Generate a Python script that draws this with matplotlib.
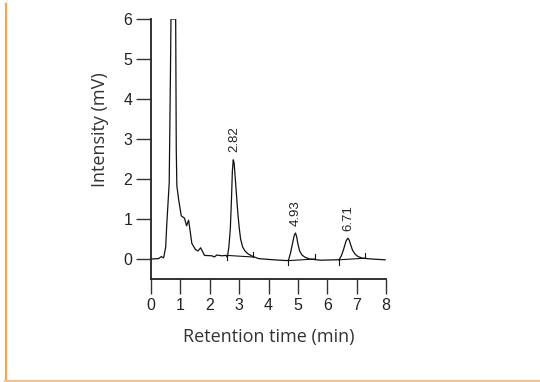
import matplotlib
matplotlib.use("Agg")
import matplotlib.pyplot as plt
from matplotlib.lines import Line2D

# Chromatogram trace (retention time in min, intensity in mV)
time_min = [0.00, 0.26, 0.35, 0.43, 0.50, 0.54, 0.62, 0.66, 0.68, 0.84, 0.86, 0.88,
            0.94, 1.03, 1.14, 1.21, 1.28, 1.34, 1.39, 1.51, 1.60, 1.69, 1.82, 2.07,
            2.16, 2.24, 2.41, 2.56, 2.60, 2.65, 2.70, 2.74, 2.77, 2.80, 2.83, 2.86,
            2.90, 2.95, 3.00, 3.05, 3.12, 3.20, 3.30, 3.45, 3.66, 4.17, 4.63, 4.68,
            4.75, 4.82, 4.88, 4.92, 4.96, 5.00, 5.06, 5.14, 5.25, 5.40, 5.76, 6.32,
            6.40, 6.48, 6.56, 6.64, 6.70, 6.75, 6.80, 6.86, 6.95, 7.05, 7.20, 7.50,
            7.97]
intensity_mv = [0.00, 0.01, 0.06, 0.03, 0.30, 0.91, 1.90, 4.50, 6.00, 6.00, 2.74, 1.83,
                1.49, 1.08, 1.02, 0.83, 0.97, 0.66, 0.39, 0.24, 0.20, 0.28, 0.09, 0.08,
                0.05, 0.10, 0.08, 0.09, 0.04, 0.30, 0.75, 1.50, 2.20, 2.48, 2.40, 2.10,
                1.70, 1.20, 0.80, 0.50, 0.30, 0.20, 0.13, 0.07, 0.01, -0.02, -0.04, -0.03,
                0.15, 0.40, 0.60, 0.65, 0.55, 0.38, 0.20, 0.10, 0.04, 0.00, -0.03, -0.02,
                -0.02, 0.08, 0.25, 0.45, 0.52, 0.47, 0.35, 0.22, 0.12, 0.06, 0.02, 0.00,
                -0.02]

# Integration baselines (start/end of each peak)
peak_start_t = [2.58, 4.68, 6.40]
peak_start_y = [0.09, -0.04, -0.02]
peak_end_t = [3.47, 5.59, 7.29]
peak_end_y = [0.05, 0.00, 0.02]

# Peak annotations
peak_labels = ["2.82", "4.93", "6.71"]
peak_label_t = [2.82, 4.93, 6.71]
peak_label_y = [2.68, 0.83, 0.70]

x_ticks = [0, 1, 2, 3, 4, 5, 6, 7, 8]
y_ticks = [0, 1, 2, 3, 4, 5, 6]

fig = plt.figure(figsize=(5.4, 3.82), dpi=100)
ax = fig.add_axes([151/540, 1 - 279/382, (386 - 151)/540, (279 - 19)/382])

ax.plot(time_min, intensity_mv, color="#111111", lw=0.9)

tick_h = 0.12
for ts, ys, te, ye in zip(peak_start_t, peak_start_y, peak_end_t, peak_end_y):
    ax.plot([ts, te], [ys, ye], color="#111111", lw=0.8)
    ax.plot([ts, ts], [ys, ys - tick_h], color="#111111", lw=0.8)
    ax.plot([te, te], [ye, ye + tick_h], color="#111111", lw=0.8)

for lab, t, y in zip(peak_labels, peak_label_t, peak_label_y):
    ax.text(t, y, lab, rotation=90, ha="center", va="bottom", fontsize=9.5,
            family="Liberation Sans", color="#222222")

ax.set_xlim(0, 8)
ax.set_ylim(-0.5, 6)
ax.set_xticks(x_ticks)
ax.set_yticks(y_ticks)
ax.spines["top"].set_visible(False)
ax.spines["right"].set_visible(False)
for s in ("left", "bottom"):
    ax.spines[s].set_linewidth(1.3)
    ax.spines[s].set_color("#222222")
ax.tick_params(direction="out", length=10.5, width=1.0, color="#333333",
               labelsize=11.5, labelcolor="#222222", pad=3)
for lab in ax.get_xticklabels() + ax.get_yticklabels():
    lab.set_family("Liberation Sans")

ax.set_xlabel("Retention time (min)", family="Open Sans", fontsize=13,
              color="#333333", labelpad=11)
ax.set_ylabel("Intensity (mV)", family="Open Sans", fontsize=13,
              color="#333333")
ax.yaxis.set_label_coords(-0.18, 0.575)

# orange frame lines
fig.add_artist(Line2D([5.5/540, 5.5/540], [1 - 4/382, 1 - 380.5/382],
                      transform=fig.transFigure, color="#f7a44e", lw=1.6))
fig.add_artist(Line2D([5/540, 1.0], [1 - 380.5/382, 1 - 380.5/382],
                      transform=fig.transFigure, color="#f9c18c", lw=1.6))

fig.savefig("out.png", dpi=100)
